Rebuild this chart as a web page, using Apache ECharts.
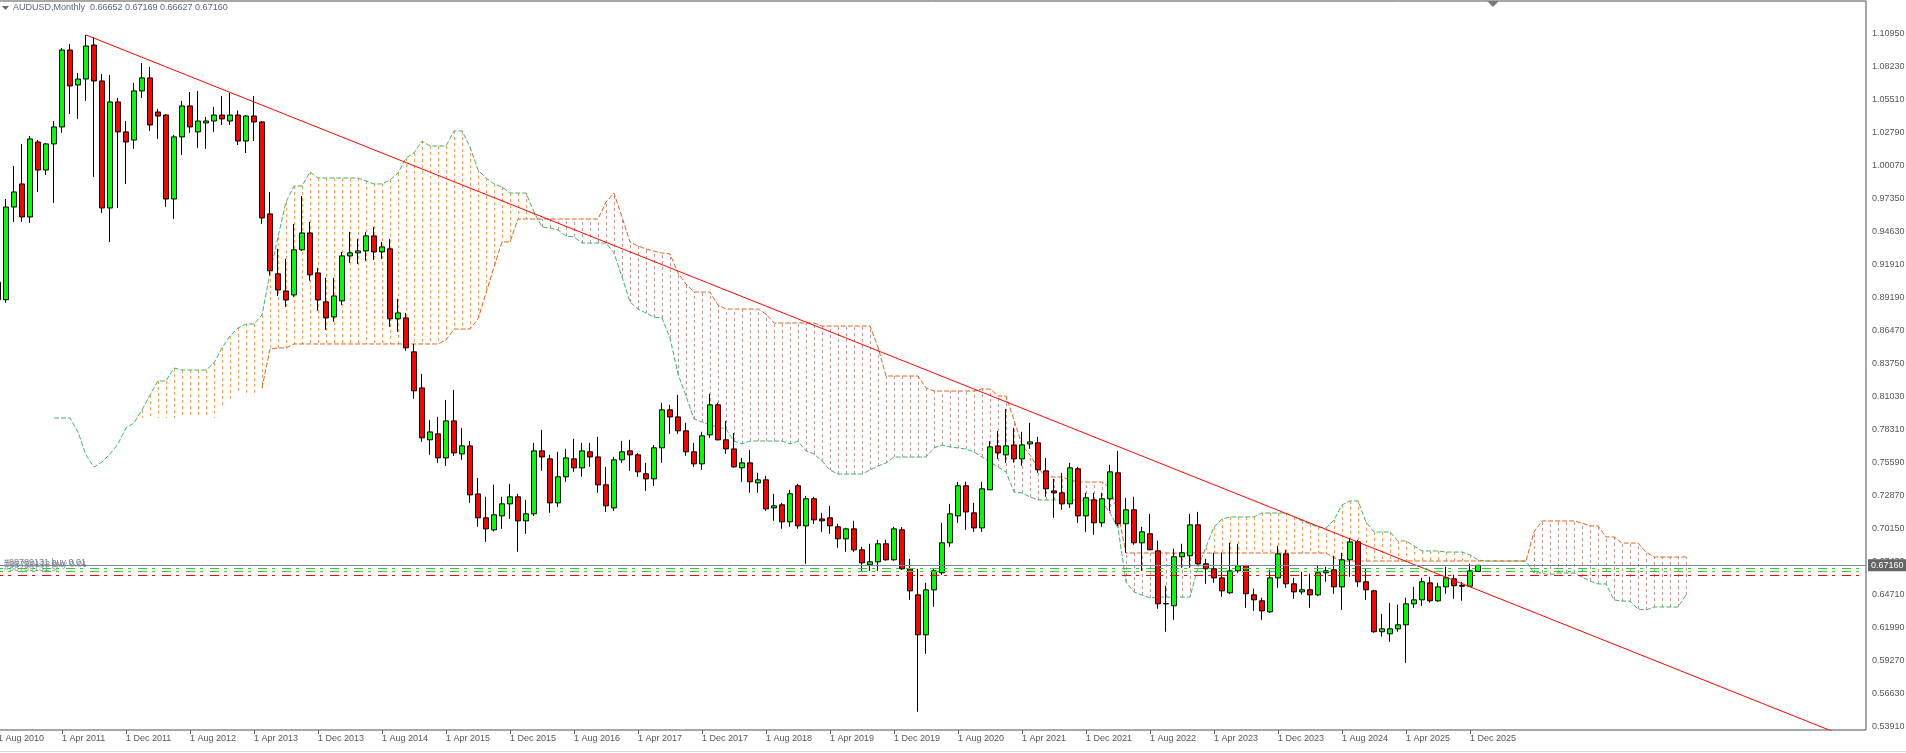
<!DOCTYPE html>
<html><head><meta charset="utf-8">
<script src="https://cdn.jsdelivr.net/npm/echarts@6/dist/echarts.min.js"></script>
<style>html,body{margin:0;padding:0;background:#fff;overflow:hidden}#c{width:1906px;height:753px}</style>
</head><body><div id="c"></div><script>
// ---------- DATA ----------
const MONTHS = ['Jan','Feb','Mar','Apr','May','Jun','Jul','Aug','Sep','Oct','Nov','Dec'];
const FIRST_YEAR = 2010, FIRST_MONTH = 7; // Aug 2010 (0-based month)
const N_CATS = 234;                       // months on the time axis (incl. future cloud/space)
const LAST_LABEL = 'Dec 2025';

// Monthly candles Aug 2010 .. Jan 2026
const OPEN = [0.9050,0.8905,0.9669,0.9859,0.9587,1.0205,0.9974,1.0189,1.0329,1.0963,1.0675,1.0724,1.1004,1.0708,0.9661,1.0535,1.0288,1.0221,1.0626,1.0733,
1.0452,1.0427,0.9735,1.0247,1.0502,1.0288,1.0362,1.0378,1.0427,1.0378,1.0427,1.0213,1.0419,1.0370,0.9612,0.9118,0.8977,0.8944,0.9316,0.9455,
0.9126,0.8887,0.8763,0.8895,0.9266,0.9291,0.9307,0.9431,0.9299,0.9324,0.8747,0.8755,0.8475,0.8178,0.7750,0.7799,0.7601,0.7906,0.7634,0.7700,
0.7304,0.7107,0.7008,0.7123,0.7222,0.7280,0.7082,0.7140,0.7659,0.7593,0.7230,0.7445,0.7593,0.7519,0.7651,0.7609,0.7379,0.7189,0.7585,0.7659,
0.7626,0.7470,0.7428,0.7684,0.7997,0.7939,0.7824,0.7651,0.7552,0.7791,0.8038,0.7750,0.7675,0.7519,0.7560,0.7395,0.7420,0.7189,0.7214,0.7074,
0.7371,0.7041,0.7264,0.7098,0.7107,0.7033,0.6934,0.7016,0.6843,0.6720,0.6744,0.6893,0.6761,0.7008,0.6687,0.6472,0.6143,0.6513,0.6654,0.6901,
0.7123,0.7371,0.7148,0.7024,0.7338,0.7700,0.7626,0.7708,0.7593,0.7716,0.7725,0.7494,0.7329,0.7313,0.7222,0.7511,0.7123,0.7255,0.7066,0.7264,
0.7478,0.7058,0.7173,0.6901,0.6976,0.6835,0.6398,0.6382,0.6786,0.6794,0.7049,0.6728,0.6687,0.6612,0.6489,0.6670,0.6712,0.6472,0.6423,0.6332,
0.6612,0.6810,0.6563,0.6497,0.6514,0.6472,0.6654,0.6679,0.6538,0.6761,0.6909,0.6580,0.6505,0.6168,0.6151,0.6192,0.6225,0.6398,0.6431,0.6571,
0.6423,0.6538,0.6604,0.6551,0.6543,0.66652];
const HIGH = [0.9160,0.9735,1.0007,1.0189,1.0254,1.0221,1.0197,1.0378,1.0980,1.1013,1.0774,1.1087,1.1070,1.0766,1.0757,1.0568,1.0378,1.0692,1.0856,1.0823,
1.0477,1.0435,1.0263,1.0543,1.0617,1.0625,1.0411,1.0494,1.0584,1.0609,1.0464,1.0427,1.0584,1.0378,0.9793,0.9324,0.9242,0.9529,0.9760,0.9546,
0.9168,0.9085,0.9085,0.9299,0.9464,0.9406,0.9464,0.9505,0.9381,0.9406,0.8912,0.8796,0.8541,0.8294,0.7914,0.7939,0.8079,0.8162,0.7848,0.7741,
0.7436,0.7280,0.7379,0.7280,0.7387,0.7305,0.7255,0.7725,0.7832,0.7626,0.7651,0.7676,0.7758,0.7725,0.7725,0.7774,0.7527,0.7609,0.7741,0.7750,
0.7642,0.7560,0.7708,0.8055,0.8038,0.8121,0.7890,0.7725,0.7816,0.8129,0.8055,0.7906,0.7807,0.7601,0.7667,0.7478,0.7453,0.7305,0.7231,0.7338,
0.7387,0.7288,0.7280,0.7148,0.7206,0.7057,0.7025,0.7082,0.6868,0.6893,0.6926,0.6926,0.7033,0.7031,0.6769,0.6687,0.6571,0.6687,0.7066,0.7222,
0.7404,0.7404,0.7231,0.7404,0.7741,0.7824,0.8005,0.7849,0.7816,0.7890,0.7774,0.7601,0.7428,0.7478,0.7560,0.7527,0.7313,0.7313,0.7313,0.7544,
0.7659,0.7272,0.7280,0.7033,0.7140,0.6918,0.6547,0.6852,0.6893,0.7140,0.7156,0.6769,0.6819,0.6819,0.6901,0.6893,0.6720,0.6522,0.6448,0.6679,
0.6876,0.6843,0.6612,0.6662,0.6646,0.6712,0.6703,0.6794,0.6819,0.6942,0.6926,0.6687,0.6514,0.6316,0.6406,0.6390,0.6448,0.6538,0.6613,0.6621,
0.6571,0.6703,0.6638,0.6580,0.6728,0.67169];
const LOW = [0.8770,0.8880,0.9546,0.9546,0.9538,0.9793,0.9933,0.9703,1.0280,1.0436,1.0395,1.0543,0.9917,0.9620,0.9381,0.9661,0.9859,1.0148,1.0568,1.0296,
1.0230,0.9670,0.9571,1.0098,1.0280,1.0156,1.0148,1.0288,1.0345,1.0345,1.0180,1.0114,1.0213,0.9530,0.9110,0.8936,0.8846,0.8928,0.9307,0.9061,
0.8813,0.8656,0.8722,0.8861,0.9208,0.9200,0.9225,0.9233,0.9241,0.8681,0.8640,0.8483,0.8088,0.7733,0.7626,0.7560,0.7535,0.7618,0.7585,0.7230,
0.7033,0.6909,0.6995,0.7016,0.7098,0.6827,0.6975,0.7123,0.7494,0.7148,0.7197,0.7404,0.7486,0.7445,0.7527,0.7313,0.7156,0.7164,0.7560,0.7494,
0.7445,0.7329,0.7370,0.7560,0.7799,0.7799,0.7618,0.7527,0.7502,0.7766,0.7745,0.7634,0.7520,0.7404,0.7313,0.7313,0.7164,0.7082,0.7016,0.7033,
0.7016,0.6728,0.7057,0.6991,0.6975,0.6860,0.6827,0.6827,0.6670,0.6670,0.6670,0.6753,0.6753,0.6678,0.6431,0.5508,0.5986,0.6373,0.6637,0.6868,
0.7066,0.7008,0.6991,0.6991,0.7338,0.7593,0.7560,0.7560,0.7535,0.7675,0.7478,0.7280,0.7107,0.7173,0.7189,0.7066,0.6991,0.6967,0.7033,0.7164,
0.7040,0.6819,0.6885,0.6670,0.6840,0.6357,0.6168,0.6266,0.6695,0.6695,0.6720,0.6563,0.6571,0.6456,0.6481,0.6654,0.6365,0.6340,0.6266,0.6324,
0.6530,0.6530,0.6439,0.6475,0.6365,0.6464,0.6580,0.6481,0.6348,0.6621,0.6538,0.6431,0.6160,0.6127,0.6085,0.6168,0.5911,0.6365,0.6381,0.6407,
0.6415,0.6481,0.6439,0.6423,0.6538,0.66627];
const CLOSE = [0.8905,0.9669,0.9793,0.9587,1.0230,0.9974,1.0189,1.0329,1.0963,1.0667,1.0724,1.0996,1.0708,0.9661,1.0535,1.0288,1.0205,1.0626,1.0733,1.0345,
1.0419,0.9735,1.0247,1.0502,1.0329,1.0378,1.0378,1.0427,1.0395,1.0427,1.0213,1.0419,1.0370,0.9579,0.9143,0.8985,0.8903,0.9316,0.9455,0.9110,
0.8903,0.8755,0.8936,0.9266,0.9291,0.9307,0.9431,0.9299,0.9340,0.8747,0.8796,0.8508,0.8154,0.7766,0.7815,0.7601,0.7906,0.7642,0.7700,0.7296,
0.7107,0.7016,0.7132,0.7222,0.7280,0.7082,0.7140,0.7659,0.7609,0.7230,0.7445,0.7601,0.7519,0.7659,0.7609,0.7379,0.7206,0.7585,0.7651,0.7626,
0.7486,0.7428,0.7684,0.7997,0.7939,0.7824,0.7651,0.7552,0.7783,0.8038,0.7750,0.7675,0.7527,0.7560,0.7404,0.7420,0.7181,0.7206,0.7074,0.7305,
0.7041,0.7264,0.7090,0.7082,0.7041,0.6934,0.7016,0.6843,0.6736,0.6744,0.6893,0.6761,0.7016,0.6687,0.6505,0.6143,0.6513,0.6670,0.6901,0.7140,
0.7371,0.7156,0.7024,0.7346,0.7692,0.7642,0.7700,0.7593,0.7708,0.7733,0.7503,0.7346,0.7313,0.7222,0.7519,0.7123,0.7272,0.7066,0.7264,0.7486,
0.7058,0.7173,0.6901,0.6992,0.6844,0.6398,0.6400,0.6786,0.6819,0.7049,0.6728,0.6687,0.6612,0.6505,0.6670,0.6712,0.6481,0.6431,0.6340,0.6612,
0.6810,0.6563,0.6497,0.6514,0.6472,0.6654,0.6670,0.6538,0.6761,0.6909,0.6580,0.6514,0.6168,0.6192,0.6192,0.6225,0.6398,0.6431,0.6580,0.6423,
0.6538,0.6613,0.6547,0.6543,0.6670,0.67160];

// Ichimoku cloud (shifted 26 months forward), Mar 2011 .. Mar 2028
const CLOUD_START = 'Mar 2011';
const SPAN_A = [0.7930,0.7930,0.7930,0.7814,0.7625,0.7526,0.7567,0.7633,0.7716,0.7847,0.7889,0.7996,0.8119,0.8235,0.8235,0.8342,0.8325,0.8325,0.8325,0.8325,
0.8383,0.8507,0.8606,0.8672,0.8705,0.8705,0.8779,0.9125,0.9422,0.9710,0.9842,0.9842,0.9958,0.9908,0.9908,0.9908,0.9908,0.9908,0.9908,0.9883,
0.9859,0.9859,0.9892,0.9949,1.0073,1.0114,1.0213,1.0172,1.0172,1.0172,1.0296,1.0296,1.0164,0.9974,0.9908,0.9859,0.9834,0.9784,0.9784,0.9784,
0.9628,0.9504,0.9496,0.9479,0.9430,0.9422,0.9372,0.9372,0.9372,0.9372,0.9290,0.9092,0.8886,0.8828,0.8795,0.8762,0.8754,0.8589,0.8293,0.8111,
0.7922,0.7897,0.7872,0.7856,0.7839,0.7740,0.7716,0.7740,0.7740,0.7740,0.7740,0.7740,0.7716,0.7740,0.7658,0.7633,0.7575,0.7501,0.7468,0.7468,
0.7468,0.7468,0.7501,0.7534,0.7559,0.7608,0.7608,0.7608,0.7608,0.7608,0.7683,0.7707,0.7691,0.7683,0.7674,0.7650,0.7608,0.7567,0.7526,0.7485,
0.7320,0.7312,0.7279,0.7254,0.7254,0.7254,0.7254,0.7254,0.7254,0.7254,0.7254,0.7238,0.7147,0.7023,0.6578,0.6496,0.6471,0.6446,0.6454,0.6454,
0.6454,0.6454,0.6454,0.6702,0.6866,0.7031,0.7097,0.7114,0.7114,0.7114,0.7114,0.7147,0.7147,0.7147,0.7147,0.7114,0.7081,0.7056,0.7031,0.7023,
0.7089,0.7213,0.7246,0.7246,0.7073,0.6990,0.6990,0.6990,0.6916,0.6916,0.6875,0.6834,0.6834,0.6834,0.6825,0.6825,0.6825,0.6801,0.6759,0.6751,
0.6751,0.6751,0.6751,0.6751,0.6751,0.6652,0.6652,0.6636,0.6652,0.6652,0.6652,0.6619,0.6586,0.6562,0.6562,0.6430,0.6421,0.6421,0.6355,0.6347,
0.6372,0.6372,0.6372,0.6372,0.6471];
const SPAN_B = [null,null,null,null,null,null,null,null,null,null,null,0.7930,0.7930,0.7930,0.7930,0.7930,0.7930,0.7930,0.7930,0.7930,
0.7930,0.8012,0.8086,0.8136,0.8136,0.8136,0.8177,0.8499,0.8507,0.8507,0.8540,0.8540,0.8540,0.8540,0.8540,0.8540,0.8540,0.8540,0.8540,0.8540,
0.8540,0.8540,0.8540,0.8540,0.8540,0.8540,0.8540,0.8540,0.8540,0.8573,0.8663,0.8663,0.8663,0.8746,0.8960,0.9174,0.9381,0.9381,0.9570,0.9570,
0.9570,0.9570,0.9570,0.9570,0.9570,0.9570,0.9570,0.9570,0.9570,0.9710,0.9784,0.9587,0.9381,0.9348,0.9323,0.9306,0.9290,0.9282,0.9125,0.9034,
0.8968,0.8968,0.8968,0.8861,0.8828,0.8828,0.8828,0.8828,0.8828,0.8787,0.8713,0.8713,0.8713,0.8713,0.8713,0.8713,0.8688,0.8688,0.8688,0.8688,
0.8688,0.8688,0.8688,0.8515,0.8276,0.8276,0.8276,0.8276,0.8276,0.8177,0.8152,0.8152,0.8152,0.8152,0.8152,0.8152,0.8169,0.8169,0.8111,0.8111,
0.7913,0.7707,0.7625,0.7518,0.7444,0.7444,0.7444,0.7419,0.7402,0.7402,0.7402,0.7402,0.7353,0.7147,0.6817,0.6817,0.6817,0.6817,0.6817,0.6817,
0.6817,0.6817,0.6817,0.6817,0.6817,0.6817,0.6817,0.6817,0.6817,0.6817,0.6817,0.6817,0.6817,0.6817,0.6817,0.6817,0.6817,0.6817,0.6817,0.6817,
0.6776,0.6751,0.6751,0.6751,0.6751,0.6751,0.6751,0.6751,0.6751,0.6751,0.6751,0.6751,0.6751,0.6751,0.6751,0.6751,0.6751,0.6751,0.6751,0.6751,
0.6751,0.6751,0.6751,0.6751,0.6751,0.6990,0.7081,0.7081,0.7081,0.7081,0.7081,0.7064,0.7040,0.7040,0.6949,0.6949,0.6899,0.6899,0.6899,0.6825,
0.6784,0.6784,0.6784,0.6784,0.6784];
const SPAN_B_LINE_FROM = 'May 2013';

// Trend line anchors, price / order lines
const TREND = [['Jul 2011', 1.1087], ['Jan 2030', 0.5250]];
const PRICE_LINE = 0.6716;
const ORDER_BUY = [0.6688, 0.6669];
const ORDER_SL = [0.6636];
const ORDER_TEXTS = ['#88789131 buy 0.01', '#88789133 buy 0.01', '#88789131 sl'];
const HEADER = 'AUDUSD,Monthly  0.66652 0.67169 0.66627 0.67160';

// Price-axis tick labels (bottom to top)
const Y_TICKS = ['0.53910','0.56630','0.59270','0.61990','0.64710','0.67430','0.70150','0.72870','0.75590','0.78310','0.81030',
'0.83750','0.86470','0.89190','0.91910','0.94630','0.97350','1.00070','1.02790','1.05510','1.08230','1.10950'];

// ---------- BUILD ----------
const cats = [];
for (let i = 0; i < N_CATS; i++) { const t = FIRST_YEAR * 12 + FIRST_MONTH + i; cats.push(MONTHS[t % 12] + ' ' + Math.floor(t / 12)); }
const lastLabelIdx = cats.indexOf(LAST_LABEL);
const candleData = OPEN.map((o, i) => [o, CLOSE[i], LOW[i], HIGH[i]]);
const cOff = cats.indexOf(CLOUD_START);
const bLineFrom = cats.indexOf(SPAN_B_LINE_FROM);
const spanAData = cats.map((c, i) => { const k = i - cOff; return (k >= 0 && k < SPAN_A.length && SPAN_A[k] != null) ? SPAN_A[k] : '-'; });
const spanBData = cats.map((c, i) => { const k = i - cOff; return (i >= bLineFrom && k >= 0 && k < SPAN_B.length && SPAN_B[k] != null) ? SPAN_B[k] : '-'; });
const hatchData = [];
SPAN_A.forEach((a, k) => { const b = SPAN_B[k]; if (a != null && b != null && a !== b) hatchData.push([k + cOff, a, b]); });
const trendData = cats.map(c => { const p = TREND.find(t => t[0] === c); return p ? p[1] : '-'; });

const FONT = 'Liberation Sans';
const AX = '#555';
const labelShown = (idx) => idx % 8 === 0 && idx <= lastLabelIdx;
const orderLine = (v, color) => ({ yAxis: v, lineStyle: { color: color, type: [9, 5, 3, 7], width: 1 }, label: { show: false } });

const chart = echarts.init(document.getElementById('c'), null, { renderer: 'canvas' });
chart.setOption({
  animation: false,
  backgroundColor: '#fff',
  textStyle: { fontFamily: FONT },
  grid: [
    { left: -6, right: 40, top: 1, bottom: 23, show: true, borderColor: '#505050', borderWidth: 1, backgroundColor: 'transparent', containLabel: false, outerBoundsMode: 'none' },
    { left: -6, right: 40, top: 34, bottom: 26, show: false, containLabel: false, outerBoundsMode: 'none' }
  ],
  xAxis: [
    { type: 'category', gridIndex: 0, data: cats, boundaryGap: true,
      axisLine: { show: false },
      axisTick: { show: true, alignWithLabel: true, interval: labelShown, length: 4, lineStyle: { color: AX } },
      axisLabel: { interval: labelShown, formatter: v => '1 ' + v, align: 'left', margin: 4, fontSize: 9, color: '#555', fontFamily: FONT },
      splitLine: { show: false } },
    { type: 'value', gridIndex: 1, show: false, min: 0, max: 1 }
  ],
  yAxis: [
    { type: 'value', gridIndex: 0, position: 'right', min: 0.53581, max: 1.13670, show: false, splitLine: { show: false } },
    { type: 'category', gridIndex: 1, position: 'right', data: Y_TICKS, boundaryGap: false,
      axisLine: { show: false },
      axisTick: { show: true, length: 3, lineStyle: { color: AX } },
      axisLabel: { margin: 6, fontSize: 9, color: '#555', fontFamily: FONT },
      splitLine: { show: false } }
  ],
  series: [
    { type: 'custom', name: 'kumo', xAxisIndex: 0, yAxisIndex: 0, z: 1, silent: true,
      data: hatchData, encode: { x: 0, y: [1, 2] },
      renderItem: function (params, api) {
        const i = api.value(0), a = api.value(1), b = api.value(2);
        const p1 = api.coord([i, a]), p2 = api.coord([i, b]);
        const x = Math.round(p1[0]) + 0.5;
        return { type: 'line', shape: { x1: x, y1: p1[1], x2: x, y2: p2[1] },
          style: { stroke: a > b ? '#f7a055' : '#c3918b', lineWidth: 1, lineDash: [3, 3] } };
      } },
    { type: 'line', name: 'Senkou A', data: spanAData, symbol: 'none', z: 2, silent: true, connectNulls: false,
      lineStyle: { color: '#3cb371', width: 1, type: [5, 2] } },
    { type: 'line', name: 'Senkou B', data: spanBData, symbol: 'none', z: 2, silent: true, connectNulls: false,
      lineStyle: { color: '#d2691e', width: 1, type: [5, 2] } },
    { type: 'candlestick', name: 'AUDUSD', data: candleData, barWidth: 5, z: 3, silent: true,
      itemStyle: { color: '#00ff00', color0: '#ff0000', borderColor: '#000', borderColor0: '#000', borderColorDoji: '#000', borderWidth: 1 } },
    { type: 'line', name: 'trend', data: trendData, connectNulls: true, symbol: 'none', z: 4, silent: true, clip: true,
      lineStyle: { color: '#ff0000', width: 1 },
      markLine: { silent: true, symbol: ['none', 'none'], animation: false, z: 5, precision: 5,
        data: [
          ...ORDER_BUY.map(v => orderLine(v, '#32cd32')),
          ...ORDER_SL.map(v => orderLine(v, '#ff0000')),
          { yAxis: PRICE_LINE, lineStyle: { color: '#778899', type: 'solid', width: 1 },
            label: { show: true, position: 'end', formatter: PRICE_LINE.toFixed(5), color: '#fff', backgroundColor: '#646464',
              padding: [2, 3, 1, 3], fontSize: 9, fontFamily: FONT, distance: 2 } }
        ] } }
  ]
});

// header + order annotations (positioned from the price scale)
const yBuy = chart.convertToPixel({ yAxisIndex: 0 }, ORDER_BUY[0]);
const yBuy2 = chart.convertToPixel({ yAxisIndex: 0 }, ORDER_BUY[1]);
const ySl = chart.convertToPixel({ yAxisIndex: 0 }, ORDER_SL[0]);
chart.setOption({
  graphic: [
    { type: 'polygon', shape: { points: [[2, 6], [9, 6], [5.5, 10]] }, style: { fill: '#6a6a6a' }, silent: true },
    { type: 'text', left: 13, top: 3, silent: true, style: { text: HEADER, fill: '#56637e', font: '9px "Liberation Sans"' } },
    { type: 'polygon', shape: { points: [[1487, 1], [1499, 1], [1493, 7]] }, style: { fill: '#7a7a7a' }, silent: true },
    { type: 'text', left: 4, top: yBuy - 11, silent: true, style: { text: ORDER_TEXTS[0], fill: '#74788c', font: '9px "Liberation Sans"' } },
    { type: 'text', left: 5, top: yBuy2 - 11, silent: true, style: { text: ORDER_TEXTS[1], fill: '#74788c', font: '9px "Liberation Sans"', opacity: 0.8 } },
    { type: 'text', left: 4, top: ySl - 11, silent: true, style: { text: ORDER_TEXTS[2], fill: '#74788c', font: '9px "Liberation Sans"', opacity: 0.85 } },
    { type: 'line', shape: { x1: 0, y1: 751.5, x2: 1906, y2: 751.5 }, style: { stroke: '#dcdcdc', lineWidth: 1 }, silent: true }
  ]
});
</script></body></html>
